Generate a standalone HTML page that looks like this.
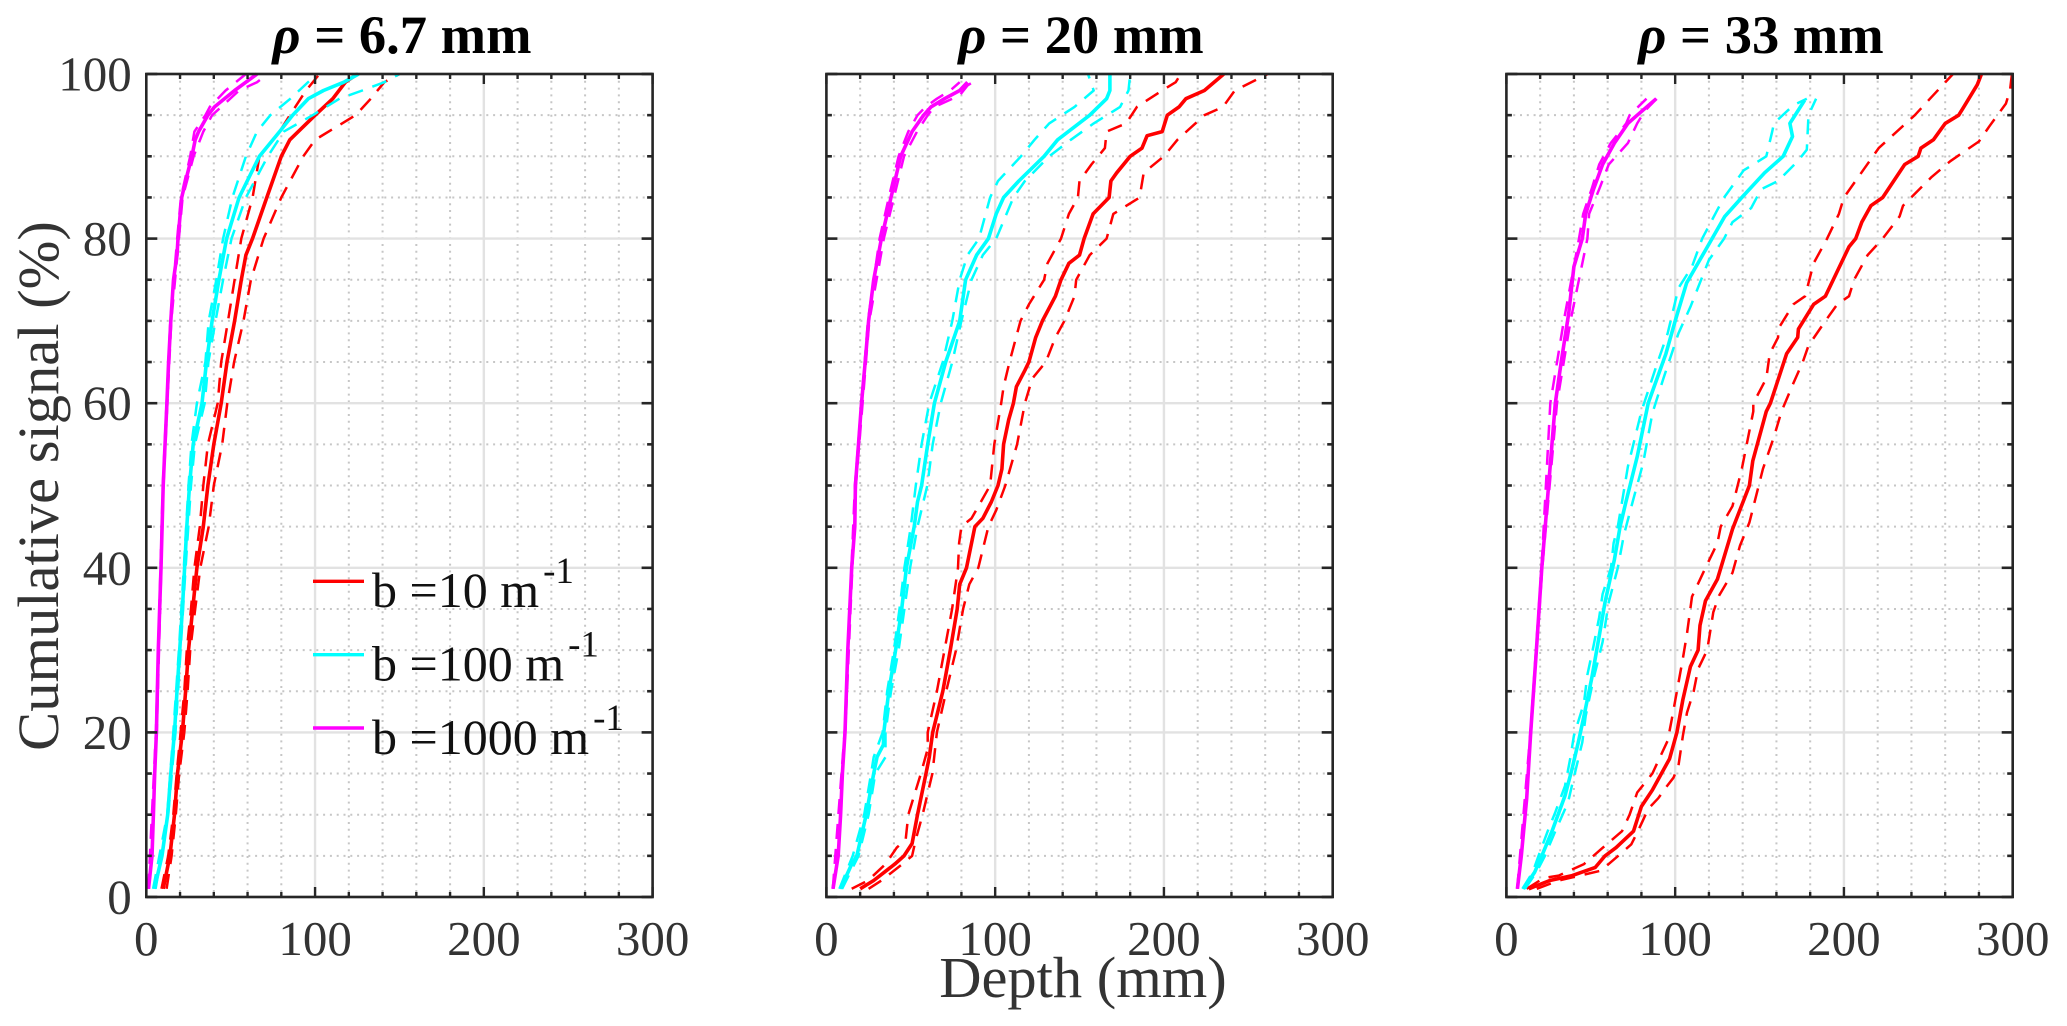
<!DOCTYPE html>
<html lang="en">
<head>
<meta charset="utf-8">
<title>Cumulative signal vs depth</title>
<style>
html,body{margin:0;padding:0;background:#fff;width:2067px;height:1026px;overflow:hidden}
svg{display:block}
text{font-family:"Liberation Serif","Times New Roman",serif}
</style>
</head>
<body>
<svg id="chart" xmlns="http://www.w3.org/2000/svg" width="2067" height="1026" viewBox="0 0 2067 1026">
  <rect x="0" y="0" width="2067" height="1026" fill="#fff"/>
  <g id="plots"></g>

  <text x="402" y="53" font-size="54.5" font-weight="bold" text-anchor="middle" fill="#000"><tspan font-style="italic">ρ</tspan> = 6.7 mm</text>
  <text x="1081" y="53" font-size="54.5" font-weight="bold" text-anchor="middle" fill="#000"><tspan font-style="italic">ρ</tspan> = 20 mm</text>
  <text x="1761" y="53" font-size="54.5" font-weight="bold" text-anchor="middle" fill="#000"><tspan font-style="italic">ρ</tspan> = 33 mm</text>

  <text x="58" y="486" transform="rotate(-90 58 486)" font-size="58.5" text-anchor="middle" fill="#333">Cumulative signal (%)</text>
  <text x="1083" y="997" font-size="58.5" text-anchor="middle" fill="#333">Depth (mm)</text>

  <g>
    <line x1="313" y1="581.3" x2="364" y2="581.3" stroke="#ff0000" stroke-width="3.4"/>
    <text x="372" y="607" font-size="50" fill="#111">b =10 m<tspan dx="4" dy="-24" font-size="37">-1</tspan></text>
    <line x1="313" y1="654.7" x2="364" y2="654.7" stroke="#00ffff" stroke-width="3.4"/>
    <text x="372" y="680.5" font-size="50" fill="#111">b =100 m<tspan dx="4" dy="-24" font-size="37">-1</tspan></text>
    <line x1="313" y1="728" x2="364" y2="728" stroke="#ff00ff" stroke-width="3.4"/>
    <text x="372" y="754" font-size="50" fill="#111">b =1000 m<tspan dx="4" dy="-24" font-size="37">-1</tspan></text>
  </g>
</svg>

<script>
// Axis tick values
const xMajorTicks = [0, 100, 200, 300];
const xMinorTicks = [20, 40, 60, 80, 120, 140, 160, 180, 220, 240, 260, 280];
const yMajorTicks = [0, 20, 40, 60, 80, 100];
const yMinorTicks = [5, 10, 15, 25, 30, 35, 45, 50, 55, 65, 70, 75, 85, 90, 95];

// Each series is a list of [depth mm, cumulative signal %]
// Panel 1: rho = 6.7 mm
const p1RedMean = [[10,1],[14,5],[16.7,10],[18.5,15],[21.4,20],[23.3,25],[25,30],[27.5,35],[30,40],[33.8,45],[36.5,50],[40,55],[44.4,60],[47.8,65],[52.3,70],[56.3,75],[59,78],[62.9,80],[71.4,85],[80,90],[85,92],[100,95],[110.5,97],[118,99],[125,100]];
const p1RedLow = [[9,1],[13,5],[16,10],[18,15],[20.3,20],[22.5,25],[24,30],[26.5,35],[28.5,40],[31.7,45],[33.8,50],[36.5,55],[42.3,60],[44.4,65],[48.4,70],[52.3,75],[56.3,80],[63,85],[67,90],[79,93],[85,95],[94.6,98],[102.6,100]];
const p1RedHigh = [[12,1],[15,5],[17.5,10],[19.5,15],[22.5,20],[24.5,25],[26,30],[29,35],[32,40],[37,45],[40,50],[45,55],[48,60],[52,65],[57.6,70],[62,75],[69.5,80],[80,85],[93,90],[100,92],[124,95],[133,97],[141,99],[150,100]];
const p1CyanMean = [[4.8,1],[9.3,5],[12.7,10],[14.5,15],[16.7,20],[18.2,25],[19.8,30],[21.4,35],[22.7,40],[24,45],[25.6,50],[27.8,55],[33,60],[35.7,65],[39,70],[43,75],[47.6,80],[55,85],[67,90],[79,93],[86.7,95],[96,97],[105,98],[117,99],[125.8,100]];
const p1CyanLow = [[4,1],[12.4,10],[16,20],[19.3,30],[22.2,40],[25,50],[26.8,55],[30,60],[35,65],[37,70],[41.5,75],[45.5,80],[51,85],[59,90],[65.6,93],[73.5,95],[85.4,97],[101,100]];
const p1CyanHigh = [[5.5,1],[13,10],[17.3,20],[20.3,30],[23.3,40],[26.5,50],[28.8,55],[34.6,60],[36.8,65],[41,70],[45.5,75],[50.5,80],[59,85],[72,90],[81.5,93],[98.6,95],[114.5,97],[128,98],[141,99],[150,100]];
const p1MagentaMean = [[1.3,1],[3.4,5],[4.2,10],[5,15],[6,20],[7.1,30],[8.7,40],[10,50],[12.2,60],[13.2,65],[14.5,70],[16.1,75],[18.2,78],[18.8,80],[21,85],[23.3,87],[27,90],[29,92],[31,93],[36.5,95],[40.4,96],[52.3,98],[59,99],[65.6,100]];
const p1MagentaLow = [[1.2,1],[5.7,20],[9.8,50],[14.2,70],[18.3,80],[20.5,85],[26,90],[28.5,93],[35,95],[37.6,96],[47,98],[59,100]];
const p1MagentaHigh = [[1.4,1],[6.2,20],[10.2,50],[14.8,70],[19.3,80],[21.5,85],[28,90],[33.8,93],[39,95],[44.4,96],[55,98],[65.6,99],[72,100]];

// Panel 2: rho = 20 mm
const p2RedMean = [[20,1],[28,2],[40.5,4],[46,5],[50.8,6.5],[54,10],[59,15],[61,17],[63,20],[69,25],[73.4,30],[77.5,35],[79,38],[83,40],[88,45],[92.7,46],[97.7,48],[101.7,50],[104,52],[105,55],[108,58],[110.8,60],[112.6,62],[117.6,64],[120,65],[124,68],[128,70],[135.7,73],[139,75],[143.7,77],[150,78],[152.7,80],[158,83],[167.5,85],[168.6,87],[172,88],[180,90],[187,91],[190,92.5],[199,93],[202,95],[209,96],[213,97],[224,98],[235.5,100]];
const p2RedLow = [[15,1],[24.7,2],[35,4],[41.7,6],[47,7],[48.5,10],[56,15],[60,18],[60,20],[65.5,25],[70,30],[74.5,35],[78,40],[78.6,43],[80,45],[86,46],[91.5,48],[97,50],[99.5,55],[103.6,60],[105,62],[108.5,65],[115,70],[120,72],[129,75],[131,77],[139,80],[143.7,83],[149,85],[150,87],[157,89],[165,91],[166,93],[177.6,94],[184,96],[199,98],[207,99],[210,100]];
const p2RedHigh = [[25,1],[32.6,2],[45,4],[50.8,5],[53,7],[57,10],[62.8,15],[65.5,20],[71,25],[76.8,30],[81,35],[84.7,38],[90,40],[96,45],[100.6,47],[106,50],[113,55],[117.6,60],[122,63],[130,65],[135.7,68],[141,70],[147,73],[148,75],[156,78],[166,80],[170,83],[185.6,85],[188,88],[200,90],[208,92],[224,95],[235,96],[242,98],[261.5,100]];
const p2CyanMean = [[8.4,1],[10.6,2],[15,4],[18,5],[23.6,10],[28,15],[30,17],[33.8,18.5],[34,20],[37,25],[41,30],[44.6,35],[47.4,40],[52,45],[54,48],[56.4,50],[60,55],[64,60],[70.7,65],[79,70],[82.5,75],[89,78],[96,80],[100.6,83],[105,85],[114,87],[129,90],[137,92],[156,95],[166,97],[168,98],[168,100]];
const p2CyanLow = [[7.7,1],[15.6,5],[22.4,10],[26.5,15],[28,17],[33.3,20],[36,25],[40,30],[43.3,35],[46.2,40],[50,45],[53,50],[56.4,55],[61,60],[69,65],[74.6,70],[79,75],[83.6,78],[90.4,80],[97,85],[101.7,87],[115.3,90],[123.3,92],[132,94],[147,96],[158.4,98],[155,100]];
const p2CyanHigh = [[9.3,1],[19,5],[25,10],[29,15],[35,17],[35,20],[38.3,25],[42.8,30],[46.2,35],[49.6,40],[54,45],[59.8,50],[63,55],[67.8,60],[74.6,65],[80,70],[86,75],[92.7,78],[100.6,80],[110.8,85],[117.6,87],[132,90],[144.8,92],[158.4,94],[174,96],[179,98],[180,100]];
const p2MagentaMean = [[3.9,1],[7,5],[8.4,10],[9.5,15],[11,20],[12.7,30],[15,40],[16.8,45],[17.2,50],[19,55],[20.8,60],[23,65],[25,70],[28,75],[32.6,80],[38.3,85],[44,90],[50.8,93],[57.6,95],[62,96],[70,97],[79,98],[83.6,99]];
const p2MagentaLow = [[3.8,1],[10.8,20],[16.9,50],[24.6,70],[31.5,80],[37,85],[42.8,90],[48.5,93],[54,95],[58.7,96],[65.5,97],[73.4,98],[79,99]];
const p2MagentaHigh = [[4,1],[11.2,20],[17.5,50],[25.4,70],[34,80],[40,85],[46,90],[53.7,93],[60,95],[64,96],[79,97.4],[83.6,98.6],[86.6,99]];

// Panel 3: rho = 33 mm
const p3RedMean = [[13.3,1],[25.7,2],[39,2.6],[52.7,3.6],[58.4,5],[65,6],[75.3,8],[80,11],[86.5,13],[96.7,16.8],[101,20],[104.6,24],[109,28],[113.6,30],[114.7,33],[118,36],[125,38.6],[134,44.7],[144,50],[146,53],[154,59],[156.4,60],[166,66],[172.6,68],[173,69],[182,72],[189,73],[196,76],[203,79],[207,80],[210.6,82],[216,84],[223,85],[236,89],[244,90],[245.6,91],[253,92],[260,94],[268,95],[271,96],[279,98.7],[281.5,100]];
const p3RedLow = [[12,1],[22,2.3],[31,2.6],[46,4],[56,5.8],[68.5,8],[73,10],[77.5,12.7],[86.5,15],[95.6,19],[98,21.6],[101,25],[104.6,29],[107,32],[110,36.5],[118,40],[125,43],[127,45],[134,47.5],[139.5,52],[146.3,59],[146.3,60],[154,63],[156,66],[161,68],[161,69],[170,72],[177,73],[182,77],[190,80],[197,83],[200,85],[220.6,91],[242,95],[251,97],[264.6,100]];
const p3RedHigh = [[18,1],[31,2],[56,3.2],[68.5,5.4],[74,6.4],[78.6,8.3],[84,10.7],[90,12],[94.5,13.3],[99,14.5],[102,16],[104.6,19.6],[107,22.4],[111,25],[113.6,27.7],[119,30],[122.6,34.6],[126,36.6],[134,39.4],[138.4,42.7],[144,45.5],[152,52],[158.7,56],[163,59],[170,62.4],[175.6,65],[179,67],[189,70],[196,72],[203,73],[206,75],[214,78],[223,80],[233,82.7],[235,84],[252,87.5],[263,89.4],[270,90.4],[280,91.8],[286,93.6],[296,96.4],[298.4,98],[299.5,100]];
const p3CyanMean = [[10,1],[16.7,3],[21,5],[27,8],[34.7,12.3],[38.8,15.5],[42.6,18.8],[46,22],[50.5,26.5],[55,31.7],[58.4,35.8],[64,41],[67.4,45],[70.8,48],[77.5,53.5],[84,60],[94.5,66],[100,70],[106.8,74.6],[118,78.6],[129.4,82.7],[139.5,85],[153,88],[164,90],[169.5,92.4],[168,94],[176.7,96.8]];
const p3CyanLow = [[9.5,1],[15.6,3],[19,5],[24.5,8],[29,10.3],[34.7,13.5],[38,17],[40,19.6],[46,23.6],[48,27],[51.6,30.5],[55,34],[57,36.8],[62,40],[63.5,43],[66,45],[68.5,48],[72,52.3],[80,59],[89,64.6],[95.6,68.5],[102,74],[110,76.6],[116,80],[125,83.5],[129,85],[140.6,88.3],[154,90],[157.5,93],[158.5,94],[170,96.2],[178,97]];
const p3CyanHigh = [[11,1],[17.8,3],[22.8,5],[29,8],[36.5,11.5],[39.7,14.3],[45,18.8],[47,22],[51.6,26.5],[57,31],[60.6,35.8],[66,40],[69.6,44],[74.8,48],[81,52.7],[86.5,58.8],[93,63],[102,68.5],[109,71.7],[120,77.4],[129,80],[134,82],[145,83.7],[151,86],[161,87],[173,89.5],[178,90.8],[179,95],[183.5,97]];
const p3MagentaMean = [[6.5,1],[8.8,5],[12,12],[14.4,20],[17.8,30],[21,40],[23.4,46],[29,60],[32.5,65],[37,71],[40,76.6],[45,80],[47,83],[51.6,86],[57,89],[64,91.6],[72,94],[77.5,95],[88.8,97]];
const p3MagentaLow = [[6.4,1],[14.2,20],[20.8,40],[26,60],[34,70],[43,80],[45.5,83],[50.5,86],[55,89],[61.8,91.6],[71,94],[73,95],[83,97]];
const p3MagentaHigh = [[6.6,1],[14.6,20],[21.3,40],[30,60],[38,70],[48,80],[49,83],[55,86],[60.6,89],[72,91.6],[77.5,94],[82,95.5],[89,97]];

const SVG_NS = 'http://www.w3.org/2000/svg';
const plotsRoot = document.getElementById('plots');
const axisTop = 74;
const axisBottom = 897;
const axisWidth = 506.3;
const xDomainMax = 300;
const yDomainMax = 100;
const redColor = '#ff0000';
const cyanColor = '#00ffff';
const magentaColor = '#ff00ff';
const inkColor = '#262626';

function yScale(v) { return axisBottom - (v / yDomainMax) * (axisBottom - axisTop); }
function xScaleFor(left) { return function (v) { return left + (v / xDomainMax) * axisWidth; }; }

function addLine(parent, x1, y1, x2, y2, stroke, width, dash) {
  const el = document.createElementNS(SVG_NS, 'line');
  el.setAttribute('x1', x1);
  el.setAttribute('y1', y1);
  el.setAttribute('x2', x2);
  el.setAttribute('y2', y2);
  el.setAttribute('stroke', stroke);
  el.setAttribute('stroke-width', width);
  if (dash) el.setAttribute('stroke-dasharray', dash);
  parent.appendChild(el);
  return el;
}

function addLabel(parent, x, y, str, anchor) {
  const el = document.createElementNS(SVG_NS, 'text');
  el.setAttribute('x', x);
  el.setAttribute('y', y);
  el.setAttribute('font-size', '49');
  el.setAttribute('fill', '#333');
  el.setAttribute('text-anchor', anchor);
  el.textContent = str;
  parent.appendChild(el);
  return el;
}

function addCurve(parent, pts, x, color, width, dash) {
  const el = document.createElementNS(SVG_NS, 'polyline');
  el.setAttribute('points', pts.map(function (p) { return x(p[0]).toFixed(1) + ',' + yScale(p[1]).toFixed(1); }).join(' '));
  el.setAttribute('fill', 'none');
  el.setAttribute('stroke', color);
  el.setAttribute('stroke-width', width);
  el.setAttribute('stroke-linejoin', 'round');
  if (dash) el.setAttribute('stroke-dasharray', dash);
  parent.appendChild(el);
  return el;
}

function drawPanel(panelId, left, showYLabels, seriesList) {
  const right = left + axisWidth;
  const x = xScaleFor(left);
  const g = document.createElementNS(SVG_NS, 'g');
  
  
  plotsRoot.appendChild(g);

  yMinorTicks.forEach(function (v) {
    const el = addLine(g, left, yScale(v), right, yScale(v), '#c6c6c6', 2, '2 4.8');
    
    
  });
  xMinorTicks.forEach(function (v) {
    const el = addLine(g, x(v), axisTop, x(v), axisBottom, '#c6c6c6', 2, '2 4.8');
    
    
  });
  yMajorTicks.forEach(function (v) {
    const el = addLine(g, left, yScale(v), right, yScale(v), '#e2e2e2', 2.4);
    
    
  });
  xMajorTicks.forEach(function (v) {
    const el = addLine(g, x(v), axisTop, x(v), axisBottom, '#e2e2e2', 2.4);
    
    
  });

  seriesList.forEach(function (s) {
    const el = addCurve(g, s.pts, x, s.color, s.dashed ? 2.5 : 3.6, s.dashed ? '15 10' : null);
    
    
  });

  yMajorTicks.forEach(function (v) {
    const a = addLine(g, left, yScale(v), left + 11, yScale(v), inkColor, 2.6);
    
    
    const b = addLine(g, right - 11, yScale(v), right, yScale(v), inkColor, 2.6);
    
    
  });
  yMinorTicks.forEach(function (v) {
    const a = addLine(g, left, yScale(v), left + 5.5, yScale(v), inkColor, 2.6);
    
    
    const b = addLine(g, right - 5.5, yScale(v), right, yScale(v), inkColor, 2.6);
    
    
  });
  xMajorTicks.forEach(function (v) {
    const a = addLine(g, x(v), axisBottom, x(v), axisBottom - 10, inkColor, 2.4);
    
    
    const b = addLine(g, x(v), axisTop, x(v), axisTop + 10, inkColor, 2.4);
    
    
  });
  xMinorTicks.forEach(function (v) {
    const a = addLine(g, x(v), axisBottom, x(v), axisBottom - 5, inkColor, 2.4);
    
    
    const b = addLine(g, x(v), axisTop, x(v), axisTop + 5, inkColor, 2.4);
    
    
  });

  const frame = document.createElementNS(SVG_NS, 'rect');
  frame.setAttribute('x', left);
  frame.setAttribute('y', axisTop);
  frame.setAttribute('width', axisWidth);
  frame.setAttribute('height', axisBottom - axisTop);
  frame.setAttribute('fill', 'none');
  frame.setAttribute('stroke', inkColor);
  frame.setAttribute('stroke-width', '2.6');
  
  
  g.appendChild(frame);

  xMajorTicks.forEach(function (v) {
    const el = addLabel(g, x(v), 955, String(v), 'middle');
    
    
  });
  if (showYLabels) {
    yMajorTicks.forEach(function (v) {
      const el = addLabel(g, left - 14.5, yScale(v) + 16.5, String(v), 'end');
      
      
    });
  }
}

function seriesSet(prefix, redMean, redLow, redHigh, cyanMean, cyanLow, cyanHigh, magentaMean, magentaLow, magentaHigh) {
  return [
    { name: prefix + '-b10-mean', pts: redMean, color: redColor, dashed: false },
    { name: prefix + '-b10-lower', pts: redLow, color: redColor, dashed: true },
    { name: prefix + '-b10-upper', pts: redHigh, color: redColor, dashed: true },
    { name: prefix + '-b100-mean', pts: cyanMean, color: cyanColor, dashed: false },
    { name: prefix + '-b100-lower', pts: cyanLow, color: cyanColor, dashed: true },
    { name: prefix + '-b100-upper', pts: cyanHigh, color: cyanColor, dashed: true },
    { name: prefix + '-b1000-mean', pts: magentaMean, color: magentaColor, dashed: false },
    { name: prefix + '-b1000-lower', pts: magentaLow, color: magentaColor, dashed: true },
    { name: prefix + '-b1000-upper', pts: magentaHigh, color: magentaColor, dashed: true }
  ];
}

drawPanel('panel-rho-6-7', 146.3, true, seriesSet('rho-6-7', p1RedMean, p1RedLow, p1RedHigh, p1CyanMean, p1CyanLow, p1CyanHigh, p1MagentaMean, p1MagentaLow, p1MagentaHigh));
drawPanel('panel-rho-20', 826.4, false, seriesSet('rho-20', p2RedMean, p2RedLow, p2RedHigh, p2CyanMean, p2CyanLow, p2CyanHigh, p2MagentaMean, p2MagentaLow, p2MagentaHigh));
drawPanel('panel-rho-33', 1506.4, false, seriesSet('rho-33', p3RedMean, p3RedLow, p3RedHigh, p3CyanMean, p3CyanLow, p3CyanHigh, p3MagentaMean, p3MagentaLow, p3MagentaHigh));
</script>
</body>
</html>
